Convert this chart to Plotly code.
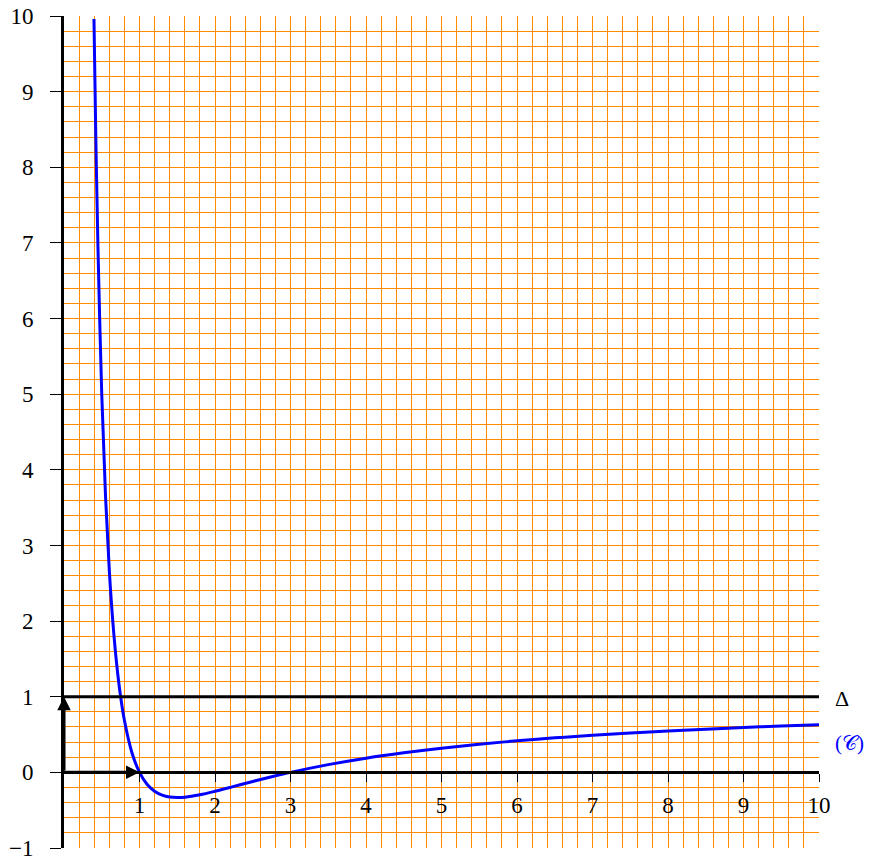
import plotly.graph_objects as go

# Curve (C)
curve_x = [0.397, 0.42, 0.45, 0.5, 0.55, 0.6, 0.65, 0.7, 0.75, 0.8, 0.9, 1.0, 1.1, 1.2, 1.3, 1.4,
           1.5, 1.6, 1.8, 2.0, 2.25, 2.5, 2.75, 3.0, 3.5, 4.0, 4.5, 5.0, 5.5, 6.0, 6.5, 7.0,
           7.5, 8.0, 8.5, 9.0, 9.5, 10.0]
curve_y = [9.96, 8.48, 6.93, 5.0, 3.65, 2.67, 1.95, 1.41, 1.0, 0.69, 0.26, 0.0, -0.157, -0.25,
           -0.302, -0.327, -0.333, -0.328, -0.296, -0.25, -0.185, -0.12, -0.058, 0.0, 0.102,
           0.1875, 0.259, 0.32, 0.372, 0.417, 0.456, 0.49, 0.52, 0.547, 0.571, 0.593, 0.612, 0.63]

x_ticks = [1, 2, 3, 4, 5, 6, 7, 8, 9, 10]
y_ticks = [-1, 0, 1, 2, 3, 4, 5, 6, 7, 8, 9, 10]
asymptote_y = 1
x_range = [0, 10]
y_range = [-1, 10]

ORANGE = "rgb(255,140,0)"
FONT = "Liberation Serif"


def px(x):
    return (x - x_range[0]) / (x_range[1] - x_range[0])


def py(y):
    return (y - y_range[0]) / (y_range[1] - y_range[0])


fig = go.Figure()
fig.add_trace(go.Scatter(x=curve_x, y=curve_y, mode="lines",
                         line=dict(color="rgb(0,0,255)", width=3, shape="spline"),
                         hoverinfo="skip", showlegend=False))

fig.update_layout(
    width=864, height=851,
    margin=dict(l=56, r=53, t=8, b=11, autoexpand=False),
    paper_bgcolor="white", plot_bgcolor="white",
    showlegend=False,
    font=dict(family=FONT, size=23, color="black"),
    xaxis=dict(range=x_range, tickvals=x_ticks, showgrid=True, gridcolor=ORANGE, gridwidth=1,
               minor=dict(dtick=0.2, tick0=0, showgrid=True, gridcolor=ORANGE, gridwidth=1),
               anchor="free", position=py(0), showline=True, linecolor="black", linewidth=3,
               ticks="outside", ticklen=8, tickwidth=1, tickcolor="black",
               ticklabelstandoff=3, ticklabeloverflow="allow",
               zeroline=False, automargin=False),
    yaxis=dict(range=y_range, tickvals=y_ticks, showgrid=True, gridcolor=ORANGE, gridwidth=1,
               minor=dict(dtick=0.2, tick0=0, showgrid=True, gridcolor=ORANGE, gridwidth=1),
               showline=True, linecolor="black", linewidth=3,
               ticks="outside", ticklen=11, tickwidth=1, tickcolor="black",
               ticklabelstandoff=12, ticklabeloverflow="allow",
               zeroline=False, automargin=False),
)

# Asymptote Delta
fig.add_shape(type="line", x0=x_range[0], x1=x_range[1], y0=asymptote_y, y1=asymptote_y,
              line=dict(color="black", width=3), layer="above")

# Unit vectors
fig.add_annotation(x=1, y=0, ax=0, ay=0, xref="x", yref="y", axref="x", ayref="y",
                   showarrow=True, arrowhead=2, arrowsize=0.9, arrowwidth=3, arrowcolor="black", text="")
fig.add_annotation(x=0, y=1, ax=0, ay=0, xref="x", yref="y", axref="x", ayref="y",
                   showarrow=True, arrowhead=2, arrowsize=0.9, arrowwidth=3, arrowcolor="black", text="")

fig.add_annotation(x=px(10.30), y=py(0.97), xref="paper", yref="paper", text="Δ",
                   xanchor="center", yanchor="middle",
                   showarrow=False, font=dict(family=FONT, size=22, color="black"))
fig.add_annotation(x=px(10.41), y=py(0.384), xref="paper", yref="paper", text="(𝒞)",
                   xanchor="center", yanchor="middle",
                   showarrow=False, font=dict(family=FONT, size=21, color="rgb(0,0,255)"))

fig.write_html("out.html")
